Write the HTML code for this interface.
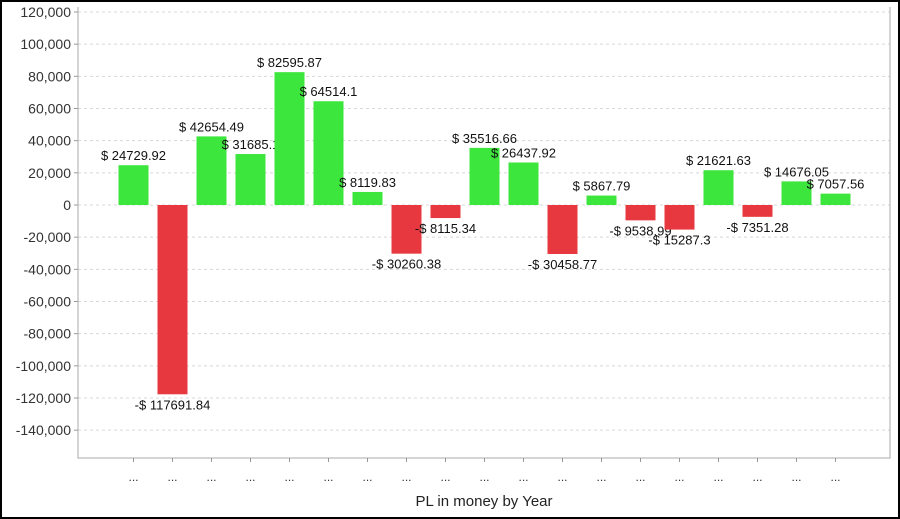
<!DOCTYPE html>
<html><head><meta charset="utf-8"><style>
body{margin:0;background:#fff;}
svg{display:block;font-family:"Liberation Sans",sans-serif;}
</style></head><body>
<svg id="chart" width="900" height="519">
<rect x="1" y="1" width="898" height="517" fill="#fff" stroke="#000" stroke-width="2"/>
<g id="grid"></g><g id="bars"></g><g id="axes"></g>
<text x="484" y="506" text-anchor="middle" font-size="15" fill="#222">PL in money by Year</text>
</svg>
<script>
const categories = ["...","...","...","...","...","...","...","...","...","...","...","...","...","...","...","...","...","...","..."];
const values = [24729.92,-117691.84,42654.49,31685.1,82595.87,64514.1,8119.83,-30260.38,-8115.34,35516.66,26437.92,-30458.77,5867.79,-9538.99,-15287.3,21621.63,-7351.28,14676.05,7057.56];
const yTicks = [120000,100000,80000,60000,40000,20000,0,-20000,-40000,-60000,-80000,-100000,-120000,-140000];
(function(){
const NS="http://www.w3.org/2000/svg";
const pLeft=78,pRight=890,pTop=7,pBottom=458;
const y=v=>205-v*(193/120000);
const x=i=>133.5+i*39;
function mk(tag,attrs,parent){const e=document.createElementNS(NS,tag);for(const k in attrs)e.setAttribute(k,attrs[k]);parent.appendChild(e);return e;}
const grid=document.getElementById('grid'),bars=document.getElementById('bars'),axes=document.getElementById('axes');
yTicks.forEach(t=>{
  const l=mk('line',{x1:pLeft,x2:pRight,y1:y(t),y2:y(t),stroke:'#d8d8d8','stroke-dasharray':'3,3'},grid);
  
  
  const tk=mk('line',{x1:pLeft-4,x2:pLeft,y1:y(t),y2:y(t),stroke:'#999'},axes);
  
  
  const tx=mk('text',{x:pLeft-7,y:y(t)+5,'text-anchor':'end','font-size':14,fill:'#333'},axes);
  tx.textContent=t.toLocaleString('en-US');
  
  
});
const ax=mk('path',{d:`M${pLeft} ${pTop}V${pBottom}H${pRight}V${pTop}`,fill:'none',stroke:'#aaa'},axes);


values.forEach((v,i)=>{
  const cx=x(i),y0=y(0),yv=y(v);
  const r=mk('rect',{x:cx-15,y:Math.min(y0,yv),width:30,height:Math.abs(yv-y0),fill:v>=0?'#3de63d':'#e8383f'},bars);
  
  
  const lb=mk('text',{x:cx,y:v>=0?yv-5:yv+15,'text-anchor':'middle','font-size':13,fill:'#111'},bars);
  lb.textContent=(v<0?'-$ ':'$ ')+String(Math.abs(v));
  
  
  const tk=mk('line',{x1:cx,x2:cx,y1:pBottom,y2:pBottom+4,stroke:'#999'},axes);
  
  
  const ct=mk('text',{x:cx,y:pBottom+23,'text-anchor':'middle','font-size':12,fill:'#333'},axes);
  ct.textContent=categories[i];
  
  
});
})();
</script>
</body></html>
